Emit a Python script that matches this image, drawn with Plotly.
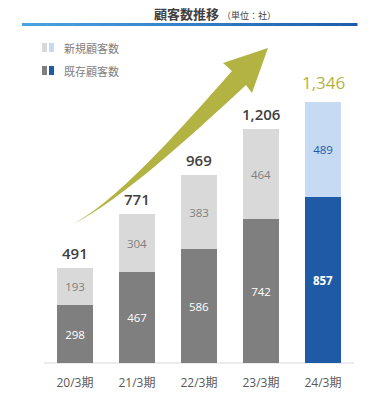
import plotly.graph_objects as go

# ---- data ----
categories = ["20/3期", "21/3期", "22/3期", "23/3期", "24/3期"]
existing = [298, 467, 586, 742, 857]
new = [193, 304, 383, 464, 489]
totals = [e + n for e, n in zip(existing, new)]

title_main = "顧客数推移"
title_unit = "（単位：社）"
legend_new = "新規顧客数"
legend_existing = "既存顧客数"

# ---- styling ----
W, H = 378, 398
MB = 35
PH = H - MB  # plot-area height in px
FONT = "Open Sans, Noto Sans CJK JP, sans-serif"
CJK = "Noto Sans CJK JP, Open Sans, sans-serif"

gray_light, gray_dark = "#d9d9d9", "#7f7f7f"
blue_light, blue_dark = "#c6dbf3", "#1f5aa7"
olive = "#b2b342"

new_colors = [gray_light] * 4 + [blue_light]
ex_colors = [gray_dark] * 4 + [blue_dark]
new_text_colors = ["#808080"] * 4 + [blue_dark]
ex_text_colors = ["#ffffff"] * 5


def P(x, y):
    """pixel -> paper coords"""
    return x / W, (PH - y) / PH


fig = go.Figure()
fig.add_trace(go.Bar(
    x=categories, y=existing, width=0.565,
    marker=dict(color=ex_colors, line=dict(width=0)),
    text=[str(v) if i < 4 else f"<b>{v}</b>" for i, v in enumerate(existing)],
    textposition="inside", insidetextanchor="middle", textangle=0,
    textfont=dict(family=FONT, size=11.5, color=ex_text_colors),
    showlegend=False, hoverinfo="skip",
))
fig.add_trace(go.Bar(
    x=categories, y=new, width=0.565,
    marker=dict(color=new_colors, line=dict(width=0)),
    text=[str(v) for v in new],
    textposition="inside", insidetextanchor="middle", textangle=0,
    textfont=dict(family=FONT, size=11.5, color=new_text_colors),
    showlegend=False, hoverinfo="skip",
))

# total labels
for i, (c, t) in enumerate(zip(categories, totals)):
    last = i == len(categories) - 1
    fig.add_annotation(
        x=c, y=t, xref="x", yref="y", text=f"{t:,}",
        showarrow=False, yanchor="bottom", yshift=6 if last else 3,
        font=dict(family=FONT, size=17 if last else 15,
                  color=olive if last else "#404040",
                  weight=400 if last else 600),
    )

shapes = []
# title underline with gradient
x0, x1, n = 22, 357, 40
c0, c1 = (0x4a, 0xa3, 0xe0), (0x1f, 0x5c, 0xae)
for k in range(n):
    f = k / (n - 1)
    col = "rgb(%d,%d,%d)" % tuple(round(a + (b - a) * f) for a, b in zip(c0, c1))
    xa = x0 + (x1 - x0) * k / n
    xb = x0 + (x1 - x0) * (k + 1) / n + 0.5
    pa, pb = P(xa, 23), P(xb, 26)
    shapes.append(dict(type="rect", xref="paper", yref="paper",
                       x0=pa[0], x1=pb[0], y0=pb[1], y1=pa[1],
                       fillcolor=col, line=dict(width=0), layer="above"))

# baseline
b0, b1 = P(44, 363), P(354, 363)
shapes.append(dict(type="line", xref="paper", yref="paper",
                   x0=b0[0], x1=b1[0], y0=b0[1], y1=b1[1],
                   line=dict(color="#d9d9d9", width=1), layer="below"))

# legend swatches
for (ya, yb), (ca, cb) in [((43, 52), (gray_light, blue_light)),
                           ((66, 75), (gray_dark, blue_dark))]:
    for (xa, xb), col in [((42, 47), ca), ((49, 54), cb)]:
        p0, p1 = P(xa, yb), P(xb, ya)
        shapes.append(dict(type="rect", xref="paper", yref="paper",
                           x0=p0[0], x1=p1[0], y0=p0[1], y1=p1[1],
                           fillcolor=col, line=dict(width=0)))

# growth arrow (decoration)
pts = [
    ("M", [(73, 224)]),
    ("C", [(120, 199), (185, 124), (232, 71)]),
    ("L", [(223, 63)]),
    ("L", [(268, 48)]),
    ("L", [(252, 93)]),
    ("L", [(246, 85)]),
    ("C", [(191, 136), (120, 201), (73, 224)]),
]
path = ""
for cmd, ps in pts:
    path += cmd + " " + " ".join("%.5f,%.5f" % P(x, y) for x, y in ps) + " "
path += "Z"
shapes.append(dict(type="path", xref="paper", yref="paper", path=path,
                   fillcolor=olive, line=dict(width=0), layer="above"))

fig.update_layout(shapes=shapes)

# title
tx, ty = P(152, 13)
fig.add_annotation(
    xref="paper", yref="paper", x=tx, y=ty, xanchor="left", yanchor="middle",
    showarrow=False,
    text=f"<b>{title_main}</b> <span style='font-size:9px'>{title_unit}</span>",
    font=dict(family=CJK, size=13, color="#404040"),
)
# legend text
for label, yy in [(legend_new, 47.5), (legend_existing, 70.5)]:
    lx, ly = P(62, yy)
    fig.add_annotation(xref="paper", yref="paper", x=lx, y=ly,
                       xanchor="left", yanchor="middle", showarrow=False,
                       text=label, font=dict(family=CJK, size=11, color="#808080"))

ymax = PH / (261 / 1346)
fig.update_layout(
    width=W, height=H, autosize=False,
    margin=dict(l=0, r=0, t=0, b=MB, pad=0),
    barmode="stack", bargap=0,
    plot_bgcolor="white", paper_bgcolor="white",
    xaxis=dict(range=[-75 / 62, -75 / 62 + W / 62], showgrid=False,
               zeroline=False, showline=False, ticks="", automargin=False,
               ticklabelstandoff=11,
               tickfont=dict(family=FONT, size=12, color="#595959"),
               fixedrange=True),
    yaxis=dict(range=[0, ymax], visible=False, automargin=False, fixedrange=True),
    uniformtext=dict(mode=False),
)

fig.write_html(
    "out.html",
    config={"displayModeBar": False},
    post_script="document.body.style.margin='0';document.body.style.overflow='hidden';",
)
